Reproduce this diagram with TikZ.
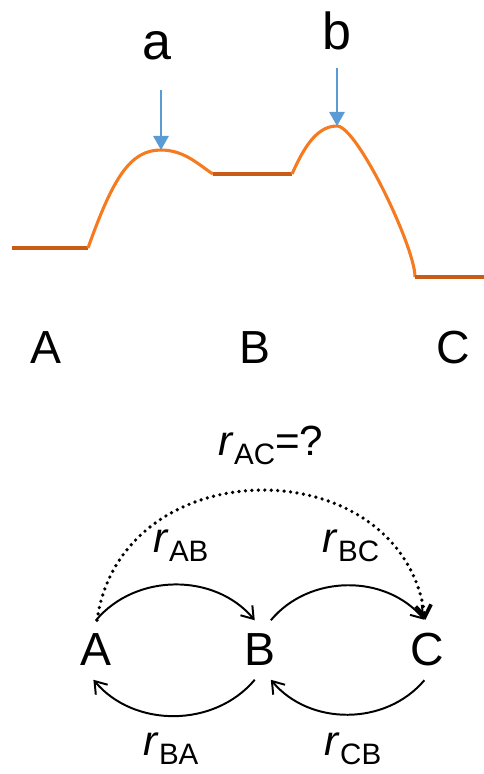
\documentclass[tikz,border=0pt]{standalone}
\usepackage{fontspec}
\setmainfont{Liberation Sans}
\usepackage{xcolor}
\usetikzlibrary{
  arrows.meta,
  positioning
}
\definecolor{barrierorange}{RGB}{245,122,32}
\definecolor{floorbrown}{RGB}{200,92,22}
\definecolor{markblue}{RGB}{91,155,213}
\newcommand{\rate}[1]{\textit{r}\raisebox{-7pt}{\fontsize{21}{23}\selectfont #1}}
\tikzset{
  siteletter/.style={
    inner xsep=0pt,
    inner ysep=9.6pt,
    font=\fontsize{33}{36}\selectfont
  },
  ratelabel/.style={anchor=base,inner sep=0pt,font=\fontsize{30}{33}\selectfont},
  peaklabel/.style={anchor=base,inner sep=0pt,font=\fontsize{37}{40}\selectfont},
  floorline/.style={line width=2.2pt,draw=floorbrown},
  barrier/.style={line width=2.2pt,draw=barrierorange},
  markarrow/.style={-{Triangle[length=10pt,width=11pt]},line width=1.1pt,draw=markblue,fill=markblue},
  hoparrow/.style={-{Straight Barb[length=8pt,width=11pt]},line width=1.4pt},
  guessarrow/.style={hoparrow,line width=2.6pt,line cap=round,dash pattern=on 0pt off 4.6pt}
}

\begin{document}
\begin{tikzpicture}[x=0.025cm,y=-0.025cm]
  \useasboundingbox (0,0) rectangle (484,774);

  % energy profile
  \coordinate (pka) at (161,150);
  \coordinate (pkb) at (337,126);
  \draw[floorline] (12,248) -- (88,248);
  \draw[barrier] (88,248) .. controls (113,178) and (130,150) .. (pka)
    .. controls (185,150) and (200,166) .. (213,174);
  \draw[floorline] (213,174) -- (292,174);
  \draw[barrier] (292,174) .. controls (302,152) and (315,126) .. (pkb)
    .. controls (357,126) and (415,247) .. (415,277);
  \draw[floorline] (415,277) -- (484,277);

  \node[peaklabel] (a) at (157,60) {a};
  \node[peaklabel] (b) at (337,50) {b};
  \draw[markarrow,shorten <=21pt] (a.south -| pka) -- (pka);
  \draw[markarrow,shorten <=12pt] (b.south -| pkb) -- (pkb);

  \node[siteletter] (wA) at (46,348) {A};
  \node[siteletter] (wB) at (255,348) {B};
  \node[siteletter] (wC) at (453,348) {C};

  % kinetic scheme
  \node[siteletter] (A) at (96,650) {A};
  \node[siteletter] (B) at (260,650) {B};
  \node[siteletter] (C) at (427,650) {C};

  \draw[hoparrow] (A.north) to[bend left=50] (B.100);
  \draw[hoparrow] (B.70) to[bend left=50] (C.95);
  \draw[hoparrow] (B.260) to[bend left=50] (A.265);
  \draw[hoparrow] (C.265) to[bend left=50] (B.290);
  \draw[guessarrow] (A.88) to[out=82,in=98,looseness=1.36] (C.93);

  \node[ratelabel] (rAC) at (271,455) {\rate{AC}=?};
  \node[ratelabel] (rAB) at (181,552) {\rate{AB}};
  \node[ratelabel] (rBC) at (351,552) {\rate{BC}};
  \node[ratelabel] (rBA) at (171,755) {\rate{BA}};
  \node[ratelabel] (rCB) at (353,755) {\rate{CB}};
\end{tikzpicture}
\end{document}
